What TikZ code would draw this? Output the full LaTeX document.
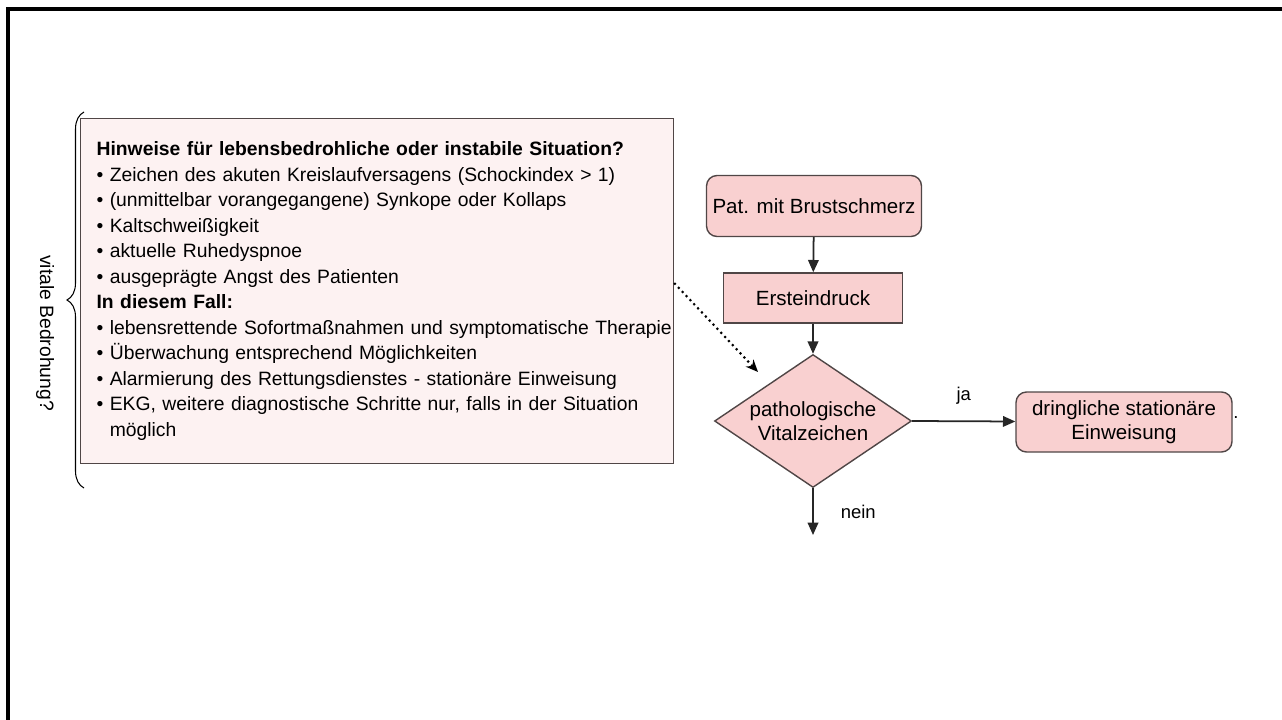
\documentclass[tikz,border=0pt]{standalone}
\usepackage{fontspec}
\setmainfont{Liberation Sans}
\usetikzlibrary{arrows.meta,shapes.geometric,decorations.pathreplacing}
\definecolor{boxpink}{RGB}{249,208,208}
\definecolor{notepink}{RGB}{253,242,242}
\definecolor{edgegray}{RGB}{80,70,70}
\begin{document}
\begin{tikzpicture}[x=0.02cm,y=-0.02cm,
  stepbox/.style={draw=edgegray,fill=boxpink,line width=0.8pt,font=\fontsize{11.7}{13.5}\selectfont,align=center},
  flow/.style={-{Triangle[length=7pt,width=6pt]},line width=1pt,draw=black!85},
  lbl/.style={font=\fontsize{10.5}{12}\selectfont}]
  \useasboundingbox (0,0) rectangle (1282,720);
  % outer frame
  \draw[line width=1.8pt] (8,9) rectangle (1300,740);
  % note box with warning signs
  \node[draw=edgegray,fill=notepink,line width=0.7pt,anchor=north west,
    minimum height=345*0.02cm,text width=593*0.02cm,inner xsep=0pt,
    font=\fontsize{11}{14.5}\selectfont] (note) at (80,118)
    {\parindent=0pt\leftskip=0.32cm\rightskip=0pt plus 1fil\hyphenpenalty=10000
     \textbf{Hinweise für lebensbedrohliche oder instabile Situation?}\newline
     • Zeichen des akuten Kreislaufversagens (Schockindex > 1)\newline
     • (unmittelbar vorangegangene) Synkope oder Kollaps\newline
     • Kaltschweißigkeit\newline
     • aktuelle Ruhedyspnoe\newline
     • ausgeprägte Angst des Patienten\newline
     \textbf{In diesem Fall:}\newline
     • lebensrettende Sofortmaßnahmen und symptomatische Therapie\newline
     • Überwachung entsprechend Möglichkeiten\newline
     • Alarmierung des Rettungsdienstes - stationäre Einweisung\newline
     • EKG, weitere diagnostische Schritte nur, falls in der Situation\newline
     \phantom{• }möglich\par};
  % brace and its label
  \coordinate (bracebot) at (84,488);
  \coordinate (bracetop) at (84,112);
  \draw[line width=0.6pt,decorate,decoration={brace,amplitude=0.34cm}] (bracebot) -- (bracetop);
  \node[rotate=-90,font=\fontsize{11}{12}\selectfont] (threat) at (45,333) {vitale Bedrohung?};
  % flowchart
  \node[stepbox,rounded corners=6pt,minimum width=215*0.02cm,minimum height=61*0.02cm] (pat) at (814,206) {Pat. mit Brustschmerz};
  \node[stepbox,minimum width=179*0.02cm,minimum height=50*0.02cm] (first) at (813,298) {Ersteindruck};
  \node[stepbox,diamond,aspect=1.48,inner sep=0pt,minimum width=197*0.02cm,minimum height=133*0.02cm] (vital) at (813,421) {pathologische\\Vitalzeichen};
  \node[stepbox,rounded corners=6pt,minimum width=216*0.02cm,minimum height=60*0.02cm] (admit) at (1124,422) {dringliche stationäre\\Einweisung};
  \coordinate (down) at (813,535);
  \node[lbl] (dot) at (1236,418) {.};
  \draw[flow] (pat) -- (first);
  \draw[flow] (first) -- (vital);
  \draw[flow] (vital.east) -- node[lbl,above,yshift=6pt] {ja} (admit);
  \draw[flow] (vital.south) -- node[lbl,right,xshift=12pt] {nein} (down);
  % dotted hint from the note to the decision
  \draw[dotted,line width=1.2pt,-{Stealth[length=7pt,width=6pt]}] (note.east |- 0,283) -- (758,372);
\end{tikzpicture}
\end{document}
